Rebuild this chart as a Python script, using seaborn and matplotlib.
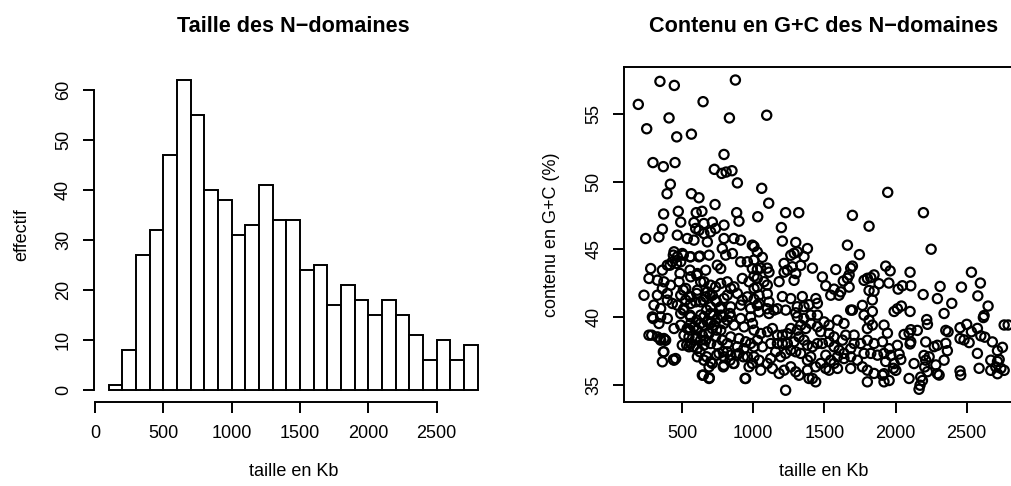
"""
Taille et contenu en G+C des N-domaines
=======================================

Two-panel figure: histogram of N-domain sizes and scatter of G+C content
against size, drawn in the spirit of an R base-graphics plot.
"""

import matplotlib
matplotlib.use("Agg")
import matplotlib.pyplot as plt
import seaborn as sns
import numpy as np

# ============================================== DATA ==============================================
# histogram: bin edges (Kb) and counts per bin
hist_edges = [100, 200, 300, 400, 500, 600, 700, 800, 900, 1000, 1100, 1200, 1300, 1400,
              1500, 1600, 1700, 1800, 1900, 2000, 2100, 2200, 2300, 2400, 2500, 2600, 2700, 2800]
hist_counts = [1, 8, 27, 32, 47, 62, 55, 40, 38, 31, 33, 41, 34, 34,
               24, 25, 17, 21, 18, 15, 18, 15, 11, 6, 10, 6, 9]

# scatter: (taille en Kb, G+C %), region by region
gc_haut = [
    (193, 55.7), (345, 57.4), (446, 57.1), (875, 57.5), (648, 55.9), (409, 54.7), (833, 54.7),
    (1095, 54.9), (252, 53.9), (463, 53.3), (566, 53.5), (296, 51.4), (369, 51.1), (451, 51.4),
    (795, 52.0), (727, 50.9), (779, 50.6), (810, 50.7), (851, 50.8), (889, 49.9), (418, 49.8),
    (395, 49.1), (566, 49.1), (619, 48.8), (732, 48.3), (1060, 49.5), (1109, 48.4), (1945, 49.2),
    (2196, 47.7), (1320, 47.7), (1228, 47.7), (1032, 47.4), (1697, 47.5), (371, 47.6), (474, 47.8),
    (884, 47.7), (600, 47.7), (640, 47.8),
]
gc_gauche_haut = [
    (491, 47.0), (584, 46.97), (654, 46.9), (713, 47.0), (795, 46.78), (900, 47.07), (245, 45.79),
    (338, 45.9), (362, 46.48), (467, 46.04), (537, 45.79), (584, 45.67), (619, 46.4), (654, 46.16),
    (701, 46.28), (736, 46.53), (596, 46.53), (678, 45.54), (795, 45.79), (865, 45.79), (912, 45.67),
    (994, 45.3), (783, 45.05), (807, 44.56), (854, 44.68), (912, 44.07), (959, 44.07), (994, 43.57),
    (444, 44.81), (502, 44.68), (561, 44.44), (619, 44.44), (690, 44.56), (748, 43.82), (772, 43.57),
    (467, 44.44), (491, 44.07), (432, 44.07), (397, 43.82), (362, 43.45), (280, 43.57), (268, 42.84),
    (327, 42.71), (373, 42.59), (362, 42.1), (420, 42.34), (479, 42.59), (561, 42.96), (608, 43.2),
    (666, 43.45), (654, 42.59), (701, 42.34), (736, 42.22), (772, 42.47), (818, 42.59), (865, 42.22),
    (924, 42.84), (971, 42.59), (233, 41.6), (327, 41.6), (397, 41.73), (491, 41.6), (561, 41.48),
    (608, 41.97), (666, 41.48), (736, 41.24), (818, 41.6), (889, 41.73), (959, 41.48), (303, 40.87),
    (350, 40.62), (432, 40.99), (467, 40.87), (514, 40.62), (561, 40.99), (631, 41.11), (701, 40.74),
    (772, 40.74), (842, 40.74), (912, 40.87), (982, 40.62), (526, 42.1), (678, 41.85), (795, 41.36),
    (924, 41.24), (596, 41.11), (397, 41.24), (713, 41.6), (526, 41.24), (842, 42.1), (631, 42.59),
]
gc_gauche_bas = [
    (292, 40.0), (350, 40.0), (397, 39.88), (338, 39.51), (444, 39.14), (268, 38.65), (327, 38.52),
    (373, 38.4), (385, 38.28), (350, 38.28), (373, 37.42), (362, 36.68), (444, 36.8), (455, 36.92),
    (491, 40.25), (561, 40.0), (631, 40.13), (701, 40.25), (772, 40.13), (842, 40.0), (912, 39.88),
    (982, 40.0), (491, 39.39), (537, 39.14), (584, 39.26), (631, 39.51), (678, 39.63), (725, 39.39),
    (795, 39.51), (865, 39.39), (936, 39.26), (995, 39.51), (514, 38.65), (549, 38.52), (596, 38.4),
    (643, 38.65), (690, 38.77), (736, 38.52), (783, 38.28), (842, 38.52), (900, 38.4), (947, 38.16),
    (502, 37.91), (549, 37.79), (608, 37.66), (654, 37.91), (701, 38.03), (748, 37.91), (818, 38.03),
    (889, 37.79), (936, 37.66), (982, 38.03), (608, 37.05), (654, 36.8), (701, 36.68), (760, 37.3),
    (795, 37.05), (842, 37.17), (900, 37.3), (959, 37.05), (690, 36.31), (713, 36.56), (795, 36.43),
    (818, 37.42), (865, 36.56), (971, 36.31), (994, 36.56), (643, 35.69), (690, 35.45), (947, 35.45),
    (654, 40.0), (748, 39.88), (818, 39.76), (561, 39.51), (608, 39.02), (713, 39.14), (772, 39.02),
    (666, 38.28), (561, 38.03), (701, 39.63), (631, 38.28),
]
gc_coeur = [
    (509, 41.98), (556, 41.48), (603, 41.73), (650, 41.24), (697, 41.61), (743, 41.11), (673, 40.5),
    (720, 40.13), (767, 40.62), (790, 40.0), (837, 40.25), (509, 40.5), (556, 40.13), (603, 39.76),
    (650, 39.39), (697, 39.51), (743, 39.02), (556, 39.02), (603, 38.53), (533, 37.91), (580, 37.79),
    (626, 37.42), (673, 37.05), (743, 37.17), (790, 37.42), (837, 36.8), (884, 37.17), (931, 37.05),
    (790, 36.31), (861, 36.56), (439, 44.56), (509, 44.56), (556, 44.44), (626, 44.49), (416, 43.82),
    (462, 43.95), (486, 43.21), (556, 43.45), (603, 43.08), (298, 39.88), (287, 38.65), (345, 38.4),
    (381, 38.28), (369, 37.42), (439, 36.85), (650, 35.7), (692, 35.5), (943, 35.45),
]
gc_milieu_haut = [
    (1205, 45.6), (1299, 45.5), (1381, 45.05), (1662, 45.3), (1746, 44.6), (1006, 45.2), (1029, 44.8),
    (1064, 44.4), (1814, 46.7), (1198, 46.6), (1053, 43.6), (1099, 43.6), (1111, 43.3), (1217, 43.95),
    (1264, 44.55), (1287, 44.7), (1310, 44.8), (1357, 44.45), (1334, 43.8), (1275, 43.7), (1299, 43.2),
    (1287, 42.7), (1217, 43.3), (1240, 43.45), (1182, 42.6), (1099, 42.35), (1076, 42.6), (1029, 42.85),
    (1006, 42.1), (1041, 41.6), (1099, 41.7), (1111, 41.1), (1205, 41.5), (1264, 41.35), (1345, 41.5),
    (1416, 43.6), (1486, 42.95), (1580, 43.5), (1510, 42.3), (1568, 42.05), (1615, 41.85), (1633, 42.65),
    (1674, 43.1), (1685, 43.6), (1697, 43.75), (1662, 42.85), (1674, 42.2), (1603, 41.6), (1545, 41.6),
    (1440, 41.35), (1451, 41.0), (1392, 40.9), (1357, 40.75), (1310, 40.75), (1697, 40.5), (1767, 40.85),
    (1837, 41.25), (1837, 40.4), (1802, 42.85), (1826, 42.9), (1779, 42.7), (1849, 43.1), (1884, 42.45),
    (1814, 41.95), (1849, 41.9), (1099, 40.6), (1029, 40.85), (1170, 40.6), (1229, 40.5), (1299, 40.3),
    (1006, 44.2), (1029, 43.5), (1006, 43.0), (1029, 42.2), (1006, 41.3), (1041, 41.0),
]
gc_milieu_bas = [
    (1041, 40.37), (1111, 40.25), (1146, 40.5), (1310, 40.0), (1357, 39.88), (1404, 40.13), (1451, 40.13),
    (1498, 39.63), (1533, 39.39), (1592, 39.76), (1638, 39.51), (1685, 40.5), (1779, 40.13), (1814, 39.76),
    (1802, 39.14), (1837, 39.39), (1919, 39.39), (1709, 38.65), (1650, 38.65), (1627, 38.28), (1568, 38.52),
    (1533, 38.77), (1474, 38.9), (1451, 39.27), (1404, 39.51), (1369, 39.14), (1334, 39.39), (1310, 39.02),
    (1264, 39.14), (1240, 38.77), (1205, 38.65), (1170, 38.65), (1135, 39.14), (1100, 38.9), (1053, 38.77),
    (1006, 39.02), (1029, 38.28), (1006, 37.79), (1065, 37.79), (1123, 38.03), (1170, 38.03), (1205, 38.03),
    (1240, 38.03), (1287, 38.16), (1322, 38.52), (1357, 38.28), (1381, 37.91), (1416, 37.79), (1451, 38.03),
    (1486, 38.03), (1533, 38.16), (1568, 37.79), (1603, 37.54), (1638, 37.3), (1685, 37.66), (1709, 38.03),
    (1755, 38.03), (1802, 38.28), (1849, 38.03), (1908, 38.16), (1919, 37.3), (1873, 37.17), (1826, 37.3),
    (1779, 37.3), (1732, 36.8), (1685, 37.05), (1638, 36.92), (1592, 37.05), (1545, 36.8), (1510, 37.17),
    (1474, 36.56), (1439, 36.31), (1404, 37.05), (1381, 36.8), (1334, 37.3), (1299, 37.42), (1264, 37.54),
    (1228, 37.3), (1193, 37.05), (1158, 37.42), (1123, 36.92), (1100, 36.56), (1041, 36.8), (1006, 37.05),
    (1053, 36.06), (1135, 36.19), (1182, 35.82), (1217, 36.06), (1264, 36.31), (1299, 35.94), (1322, 35.69),
    (1381, 36.06), (1392, 35.45), (1439, 35.2), (1510, 36.19), (1533, 36.06), (1685, 36.19), (1767, 36.31),
    (1802, 36.06), (1849, 35.82), (1908, 35.69), (1802, 35.2), (1919, 35.2), (1228, 34.58), (1416, 35.45),
    (1568, 36.56), (1592, 36.19),
]
gc_droite_haut = [
    (2250, 45.0), (1931, 43.75), (1962, 43.4), (1953, 42.5), (2018, 42.05), (2048, 42.3), (2107, 42.3),
    (2102, 43.3), (2194, 41.65), (2294, 41.35), (2313, 42.25), (2395, 41.0), (2463, 42.2), (2533, 43.3),
    (2596, 42.5), (2578, 41.55), (2650, 40.8), (2341, 40.25), (2041, 40.8), (2013, 40.6), (1990, 40.4),
    (2102, 40.4), (2622, 40.1),
]
gc_droite_bas = [
    (2617, 39.95), (2219, 39.8), (2224, 39.45), (2763, 39.4), (2791, 39.4), (1943, 38.8), (2060, 38.7),
    (2095, 38.8), (2107, 39.05), (2153, 39.0), (2107, 38.15), (2102, 38.0), (2212, 38.15), (2353, 39.0),
    (2369, 38.9), (2453, 39.2), (2500, 39.45), (2533, 38.9), (2575, 39.15), (2599, 38.6), (2627, 38.5),
    (2453, 38.4), (2481, 38.3), (2517, 38.1), (2680, 38.15), (2716, 37.5), (2575, 37.3), (2751, 37.75),
    (1955, 37.65), (2013, 37.9), (1967, 37.15), (2025, 37.25), (2037, 36.85), (1990, 36.55), (1931, 36.7),
    (2002, 36.05), (1985, 36.2), (1955, 35.3), (1919, 35.8), (2095, 35.45), (2177, 35.55), (2165, 34.65),
    (2172, 34.95), (2189, 35.3), (2130, 36.55), (2200, 37.15), (2212, 36.8), (2236, 37.05), (2271, 37.8),
    (2294, 37.9), (2353, 38.05), (2364, 37.5), (2341, 36.8), (2283, 36.45), (2294, 35.8), (2306, 35.7),
    (2224, 35.95), (2205, 36.3), (2453, 36.0), (2458, 35.7), (2587, 36.2), (2669, 36.8), (2669, 36.05),
    (2716, 36.7), (2728, 36.85), (2740, 36.2), (2716, 35.8), (2763, 36.05), (2704, 36.3),
]

# ============================================== CONFIGURATION ==============================================
sns.set_style("white")
plt.rcParams['font.family'] = ['Liberation Sans', 'DejaVu Sans']
plt.rcParams['font.size'] = 13
plt.rcParams['text.color'] = 'black'
plt.rcParams['axes.labelcolor'] = 'black'
plt.rcParams['xtick.color'] = 'black'
plt.rcParams['ytick.color'] = 'black'

lw = 1.4
tick_len = 7.7

# ============================================== PLOTTING ==============================================
fig = plt.figure(figsize=(10.11, 4.86), dpi=100)
ax1 = fig.add_axes([0.0929, 0.172, 0.3942, 0.6895])
ax2 = fig.add_axes([0.6172, 0.172, 0.3942, 0.6895])

# --- left panel: histogram
edges = np.array(hist_edges)
mids = (edges[:-1] + edges[1:]) / 2
sns.histplot(x=mids, weights=hist_counts, bins=hist_edges, ax=ax1,
             color='white', edgecolor='black', linewidth=lw, alpha=1)
ax1.set_xlim(-8, 2908)
ax1.set_ylim(-2.48, 64.48)
ax1.set_xticks(range(0, 2501, 500))
ax1.set_yticks(range(0, 61, 10))
for side in ['top', 'right']:
    ax1.spines[side].set_visible(False)
ax1.spines['left'].set_bounds(0, 60)
ax1.spines['bottom'].set_bounds(0, 2500)
ax1.set_title('Taille des N\u2212domaines', fontsize=15.6, fontweight='bold', pad=25.6, color='black')
ax1.set_xlabel('taille en Kb')
ax1.set_ylabel('effectif')

# --- right panel: scatter
gc_all = (gc_haut + gc_gauche_haut + gc_gauche_bas + gc_coeur + gc_milieu_haut
          + gc_milieu_bas + gc_droite_haut + gc_droite_bas)
gc_taille = [p[0] for p in gc_all]
gc_pct = [p[1] for p in gc_all]
sns.scatterplot(x=gc_taille, y=gc_pct, ax=ax2, marker='o', s=44,
                facecolors='none', edgecolor='black', linewidth=1.6)
ax2.set_xlim(92.5, 2892)
ax2.set_ylim(33.68, 58.44)
ax2.set_xticks(range(500, 2501, 500))
ax2.set_yticks(range(35, 56, 5))
ax2.set_title('Contenu en G+C des N\u2212domaines', fontsize=15.6, fontweight='bold', pad=25.6, color='black')
ax2.set_xlabel('taille en Kb')
ax2.set_ylabel('contenu en G+C (%)')

for ax in (ax1, ax2):
    for sp in ax.spines.values():
        sp.set_linewidth(lw)
        sp.set_color('black')
    ax.tick_params(axis='both', direction='out', length=tick_len, width=lw,
                   colors='black', labelsize=13, left=True, bottom=True)
    ax.tick_params(axis='x', pad=8.5)
    ax.tick_params(axis='y', pad=8, labelrotation=90)
    for lab in ax.get_yticklabels():
        lab.set_verticalalignment('center')
    ax.xaxis.set_label_coords(0.5, -0.181)
    ax.yaxis.set_label_coords(-0.16, 0.5)
    ax.grid(False)

fig.savefig('out.png', dpi=100, facecolor='white')
